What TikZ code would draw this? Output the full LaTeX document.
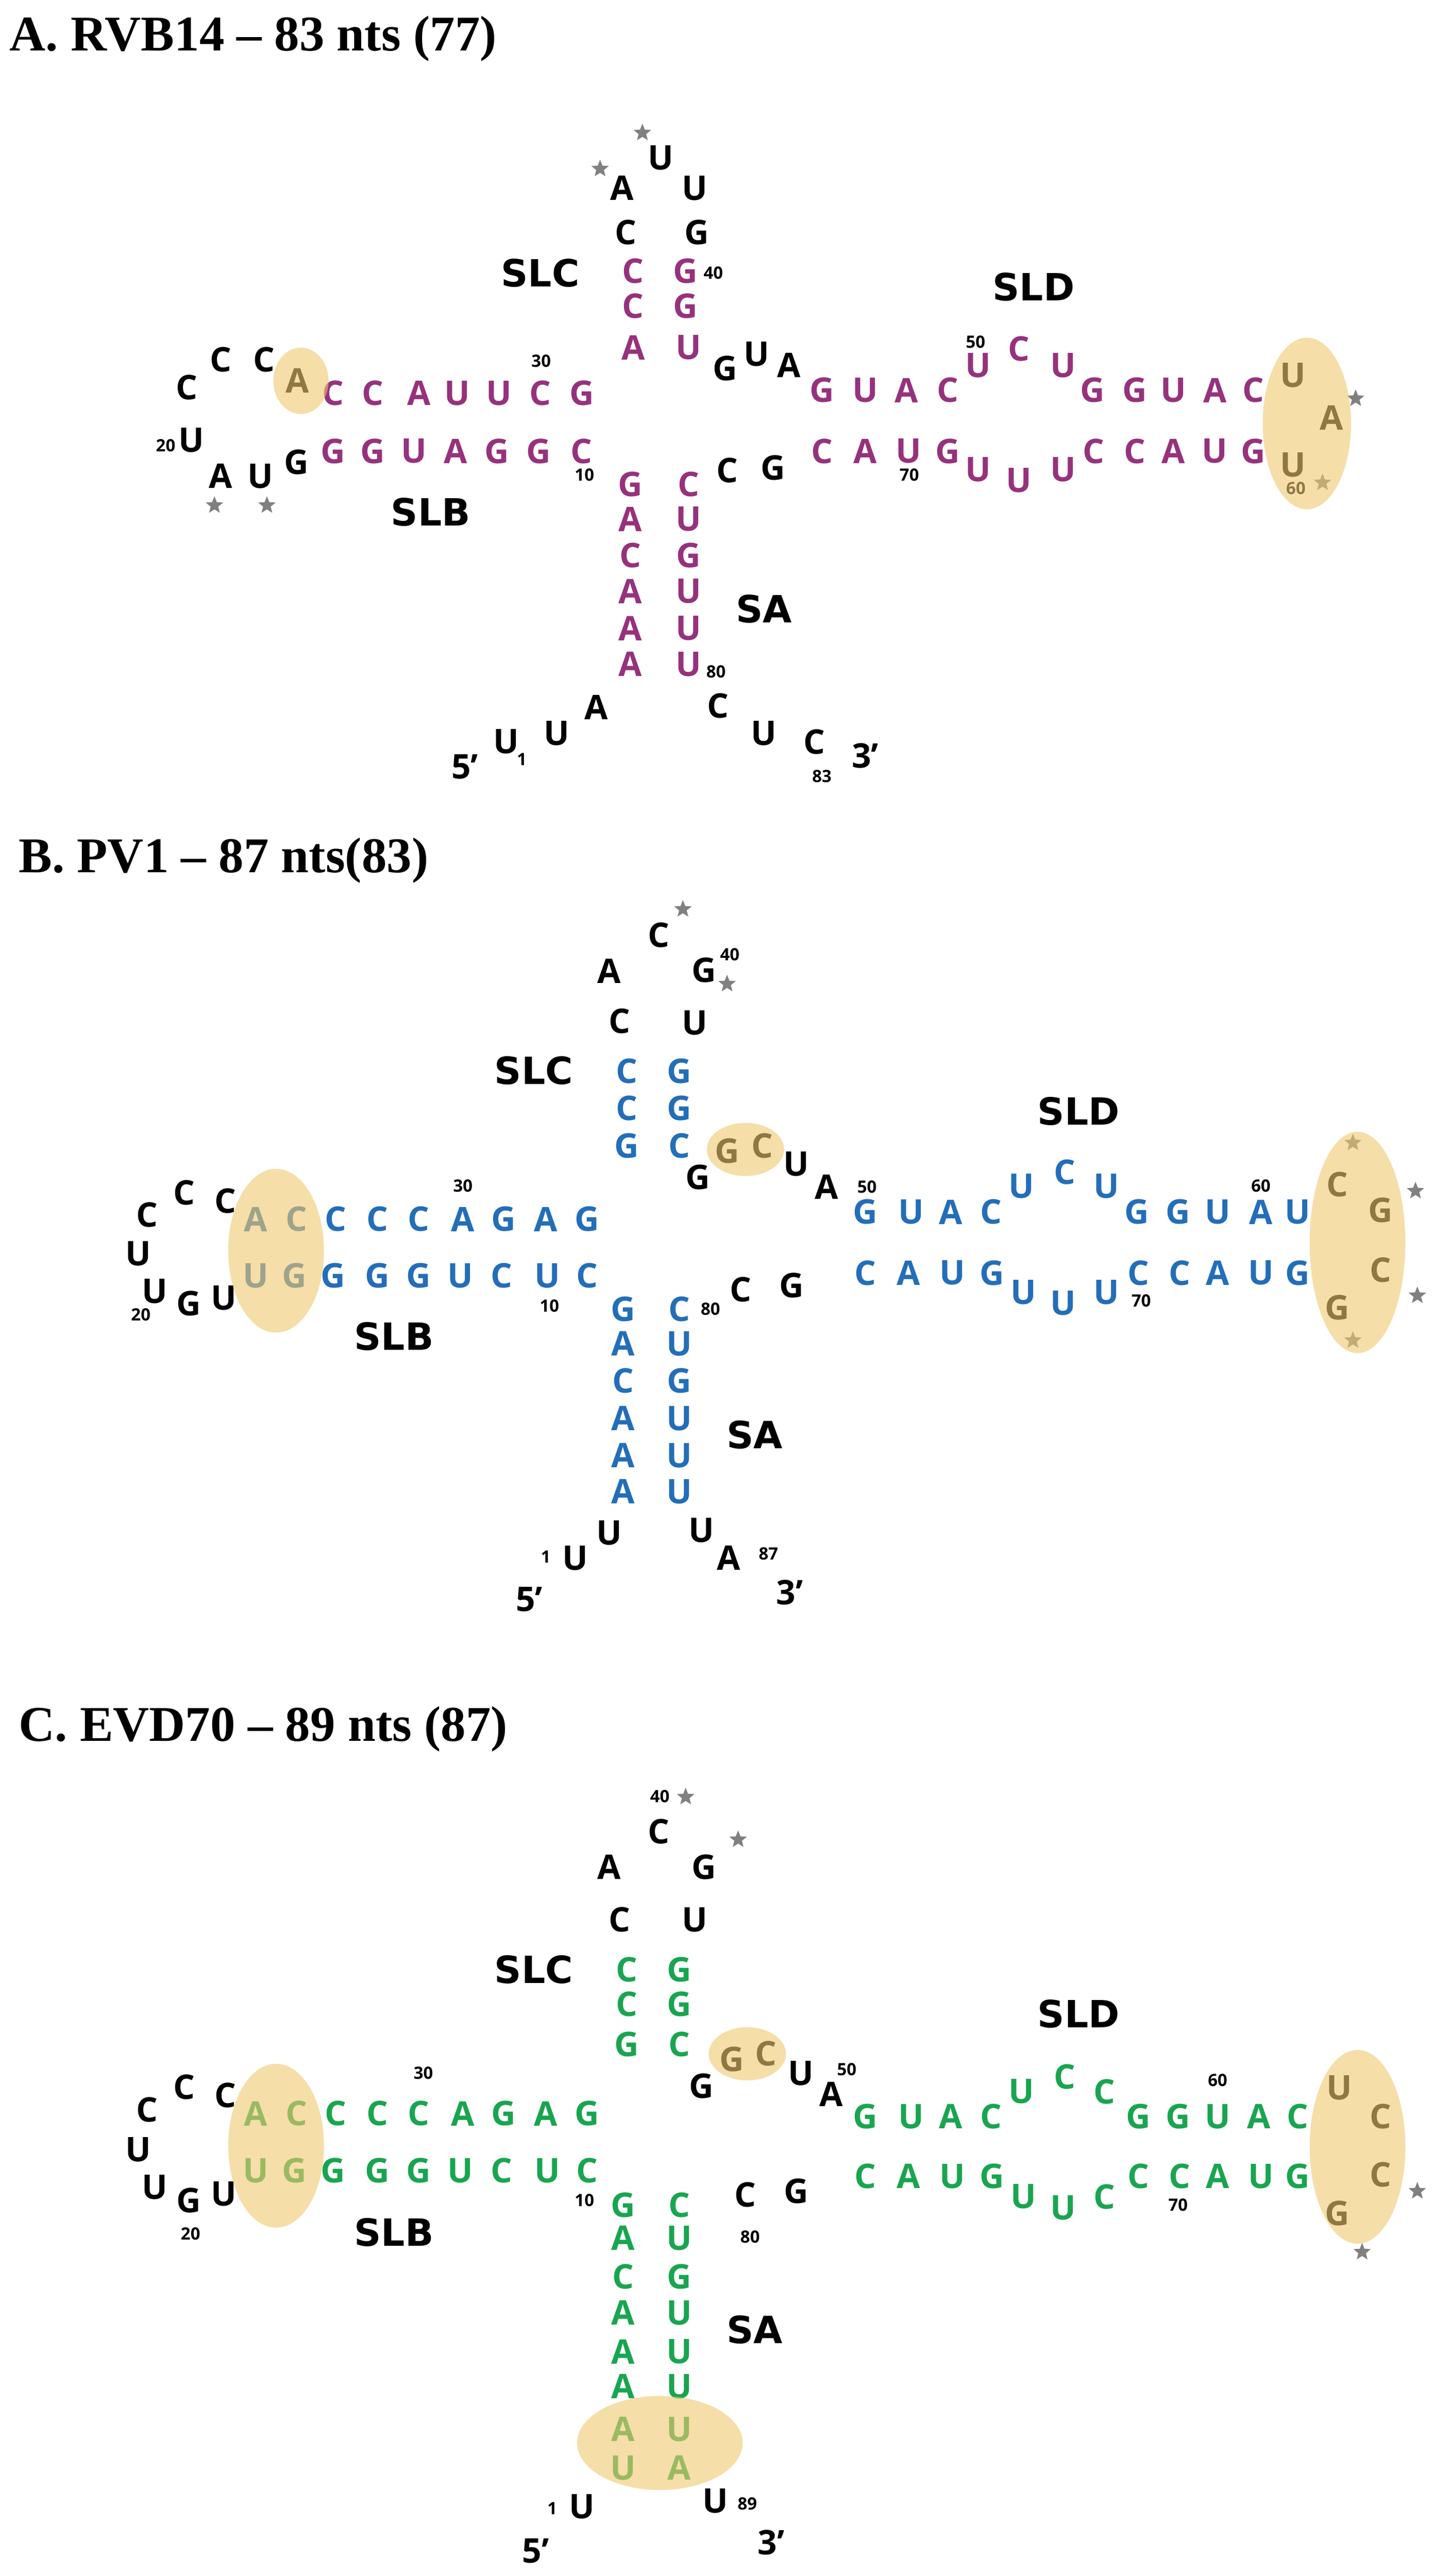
\documentclass[tikz,border=0pt]{standalone}
\usepackage{fontspec}
\setmainfont{Liberation Serif}
\setsansfont{Open Sans}
\newfontfamily\lblfont{DejaVu Sans}
\usetikzlibrary{shapes.geometric}
\definecolor{rvbpur}{RGB}{150,50,125}
\definecolor{pvblue}{RGB}{35,110,185}
\definecolor{evgreen}{RGB}{25,165,80}
\definecolor{hlfill}{RGB}{240,200,110}
\tikzset{
  nt/.style    = {inner sep=0pt, font=\fontsize{19}{19}\sffamily\bfseries},
  blk/.style   = {nt, text=black},
  pur/.style   = {nt, text=rvbpur},
  blu/.style   = {nt, text=pvblue},
  grn/.style   = {nt, text=evgreen},
  num/.style   = {inner sep=0pt, font=\fontsize{9.5}{10}\sffamily\bfseries},
  lbl/.style   = {inner sep=0pt, font=\fontsize{21}{21}\lblfont\bfseries},
  ttl/.style   = {inner sep=0pt, anchor=west, font=\fontsize{28}{28}\selectfont\bfseries},
  hl/.style    = {fill=hlfill, fill opacity=0.6},
  starmark/.style = {star, star points=5, star point ratio=2.3, fill=gray,
                  minimum size=0.36cm, inner sep=0pt}
}
\begin{document}
\begin{tikzpicture}
  \useasboundingbox (0,0) rectangle (28.26,-50.70);
  % panel A
  \begin{scope}[x=0.018115cm, y=-0.010897cm]
    \node[ttl] (tA) at (10,70) {A. RVB14 -- 83 nts (77)};
    \foreach \x/\y [count=\i] in {698/240,652/305,1473/720,1437/872,233/913,290/913}
      \node[starmark] (sA\i) at (\x,\y) {};
    \node[blk] (a36) at (676,340) {A}; \node[blk] (a37) at (718,285) {U};
    \node[blk] (a38) at (755,340) {U}; \node[blk] (a35) at (680,420) {C};
    \node[blk] (a39) at (757,420) {G};
    \node[pur] (a34) at (688,490) {C}; \node[pur] (a40) at (745,490) {G};
    \node[pur] (a33) at (688,553) {C}; \node[pur] (a41) at (745,553) {G};
    \node[pur] (a32) at (688,628) {A}; \node[pur] (a42) at (748,628) {U};
    \node[num] (nA40) at (775,493) {40};
    \node[lbl] (slcA) at (587,493) {SLC};
    \node[blk] (a43) at (788,665) {G}; \node[blk] (a44) at (822,640) {U};
    \node[blk] (a45) at (857,660) {A};
    \foreach \x/\l [count=\i] in {893/G,940/U,985/A,1030/C,1187/G,1233/G,1275/U,1320/A,1362/C}
      \node[pur] (aDt\i) at (\x,705) {\l};
    \node[pur] (a50) at (1063,660) {U}; \node[pur] (a51) at (1107,630) {C};
    \node[pur] (a52) at (1155,660) {U};
    \node[num] (nA50) at (1060,618) {50};
    \node[blk] (a58) at (1405,678) {U}; \node[blk] (a59) at (1447,755) {A};
    \node[blk] (a60) at (1405,840) {U}; \node[num] (nA60) at (1408,882) {60};
    \node[lbl] (sldA) at (1123,518) {SLD};
    \foreach \x/\l [count=\i] in {893/C,940/A,987/U,1030/G,1188/C,1233/C,1275/A,1320/U,1362/G}
      \node[pur] (aDb\i) at (\x,815) {\l};
    \node[pur] (a68) at (1063,848) {U}; \node[pur] (a67) at (1107,868) {U};
    \node[pur] (a66) at (1155,848) {U};
    \node[num] (nA70) at (988,858) {70};
    \node[blk] (a77) at (790,850) {C}; \node[blk] (a78) at (840,845) {G};
    \foreach \x/\l [count=\i] in {362/C,405/C,455/A,497/U,542/U,587/C,632/G}
      \node[pur] (aBt\i) at (\x,710) {\l};
    \node[num] (nA30) at (588,652) {30};
    \node[blk] (a24) at (323,688) {A};
    \node[blk] (a23) at (287,650) {C}; \node[blk] (a22) at (240,650) {C};
    \node[blk] (a21) at (203,700) {C}; \node[blk] (a20) at (208,795) {U};
    \node[num] (nA20) at (180,805) {20};
    \node[blk] (a19) at (240,860) {A}; \node[blk] (a18) at (283,860) {U};
    \node[blk] (a17) at (322,835) {G};
    \foreach \x/\l [count=\i] in {362/G,405/G,450/U,495/A,540/G,585/G,632/C}
      \node[pur] (aBb\i) at (\x,815) {\l};
    \node[num] (nA10) at (635,858) {10};
    \node[lbl] (slbA) at (468,925) {SLB};
    \foreach \y/\l/\r [count=\i] in {875/G/C,938/A/U,1003/C/G,1068/A/U,1135/A/U,1200/A/U} {
      \node[pur] (aSl\i) at (685,\y) {\l};
      \node[pur] (aSr\i) at (748,\y) {\r};
    }
    \node[num] (nA80) at (778,1213) {80};
    \node[lbl] (saA) at (830,1100) {SA};
    \node[blk] (a3) at (648,1278) {A}; \node[blk] (a2) at (605,1325) {U};
    \node[blk] (a1) at (550,1340) {U}; \node[num] (nA1) at (567,1372) {1};
    \node[blk] (p5A) at (505,1385) {5’};
    \node[blk] (a81) at (780,1275) {C}; \node[blk] (a82) at (830,1325) {U};
    \node[blk] (a83) at (885,1340) {C}; \node[num] (nA83) at (893,1402) {83};
    \node[blk] (p3A) at (940,1365) {3’};
    \fill[hl] (327,688) ellipse (30 and 60);
    \fill[hl] (1420,765) ellipse (48 and 155);
  \end{scope}
  % panel B
  \begin{scope}[shift={(0,-16.5)}, x=0.018115cm, y=-0.010897cm]
    \node[ttl] (tB) at (20,40) {B. PV1 -- 87 nts(83)};
    \foreach \x/\y [count=\i] in {742/128,790/263,1470/550,1538/637,1540/826,1470/907}
      \node[starmark] (sB\i) at (\x,\y) {};
    \node[blk] (b39) at (716,175) {C}; \node[num] (nB40) at (793,210) {40};
    \node[blk] (b38) at (662,240) {A}; \node[blk] (b40) at (765,238) {G};
    \node[blk] (b37) at (673,330) {C}; \node[blk] (b41) at (755,333) {U};
    \node[lbl] (slcB) at (580,420) {SLC};
    \node[blu] (b36) at (681,420) {C}; \node[blu] (b42) at (738,420) {G};
    \node[blu] (b35) at (681,487) {C}; \node[blu] (b43) at (738,487) {G};
    \node[blu] (b34) at (681,555) {G}; \node[blu] (b44) at (738,555) {C};
    \node[blk] (b45) at (790,565) {G}; \node[blk] (b46) at (828,555) {C};
    \node[blk] (b33) at (758,612) {G};
    \node[blk] (b47) at (865,588) {U}; \node[blk] (b48) at (898,630) {A};
    \node[num] (nB50) at (942,630) {50};
    \foreach \x/\l [count=\i] in {940/G,990/U,1033/A,1077/C,1235/G,1280/G,1323/U,1370/A,1410/U}
      \node[blu] (bDt\i) at (\x,675) {\l};
    \node[blu] (b53) at (1110,628) {U}; \node[blu] (b54) at (1157,603) {C};
    \node[blu] (b55) at (1202,628) {U};
    \node[num] (nB60) at (1370,628) {60};
    \node[blk] (b61) at (1453,625) {C}; \node[blk] (b62) at (1500,672) {G};
    \node[blk] (b63) at (1500,780) {C}; \node[blk] (b64) at (1453,848) {G};
    \node[lbl] (sldB) at (1172,493) {SLD};
    \foreach \x/\l [count=\i] in {940/C,987/A,1035/U,1078/G,1237/C,1282/C,1323/A,1370/U,1410/G}
      \node[blu] (bDb\i) at (\x,785) {\l};
    \node[blu] (b73) at (1112,820) {U}; \node[blu] (b72) at (1155,840) {U};
    \node[blu] (b71) at (1202,820) {U};
    \node[num] (nB70) at (1240,835) {70};
    \node[blk] (b81) at (805,815) {C}; \node[blk] (b82) at (860,808) {G};
    \node[num] (nB80) at (772,850) {80};
    \foreach \x/\l [count=\i] in {278/A,322/C,365/C,410/C,455/C,503/A,547/G,593/A,638/G}
      \node[blu] (bBt\i) at (\x,688) {\l};
    \node[num] (nB30) at (503,628) {30};
    \node[blk] (b23) at (245,655) {C}; \node[blk] (b22) at (200,640) {C};
    \node[blk] (b21) at (160,680) {C}; \node[blk] (b20) at (150,750) {U};
    \node[blk] (b19) at (168,818) {U}; \node[blk] (b18) at (205,840) {G};
    \node[blk] (b17) at (243,830) {U}; \node[num] (nB20) at (153,860) {20};
    \foreach \x/\l [count=\i] in {278/U,320/G,362/G,410/G,455/G,500/U,545/C,595/U,638/C}
      \node[blu] (bBb\i) at (\x,790) {\l};
    \node[num] (nB10) at (597,845) {10};
    \node[lbl] (slbB) at (428,900) {SLB};
    \foreach \y/\l/\r [count=\i] in {850/G/C,913/A/U,980/C/G,1048/A/U,1115/A/U,1180/A/U} {
      \node[blu] (bSl\i) at (677,\y) {\l};
      \node[blu] (bSr\i) at (738,\y) {\r};
    }
    \node[lbl] (saB) at (820,1078) {SA};
    \node[blk] (b2) at (662,1255) {U}; \node[blk] (b1) at (625,1300) {U};
    \node[num] (nB1) at (593,1298) {1}; \node[blk] (p5B) at (575,1375) {5’};
    \node[blk] (b86) at (762,1250) {U}; \node[blk] (b87) at (792,1300) {A};
    \node[num] (nB87) at (835,1292) {87}; \node[blk] (p3B) at (858,1362) {3’};
    \fill[hl] (300,745) ellipse (52 and 148);
    \fill[hl] (810,562) ellipse (42 and 48);
    \fill[hl] (1475,730) ellipse (52 and 200);
  \end{scope}
  % panel C
  \begin{scope}[shift={(0,-33.7)}, x=0.018115cm, y=-0.010897cm]
    \node[ttl] (tC) at (20,30) {C. EVD70 -- 89 nts (87)};
    \foreach \x/\y [count=\i] in {745/153,802/230,1540/865,1480/975}
      \node[starmark] (sC\i) at (\x,\y) {};
    \node[num] (nC40) at (717,152) {40};
    \node[blk] (c40) at (716,215) {C};
    \node[blk] (c39) at (662,280) {A}; \node[blk] (c41) at (765,280) {G};
    \node[blk] (c38) at (673,375) {C}; \node[blk] (c42) at (755,375) {U};
    \node[lbl] (slcC) at (580,465) {SLC};
    \node[grn] (c37) at (681,465) {C}; \node[grn] (c43) at (738,465) {G};
    \node[grn] (c36) at (681,527) {C}; \node[grn] (c44) at (738,527) {G};
    \node[grn] (c35) at (681,600) {G}; \node[grn] (c45) at (738,600) {C};
    \node[blk] (c46) at (795,627) {G}; \node[blk] (c47) at (832,617) {C};
    \node[blk] (c34) at (762,675) {G};
    \node[blk] (c48) at (870,652) {U}; \node[blk] (c49) at (903,690) {A};
    \node[num] (nC50) at (920,645) {50};
    \foreach \x/\l [count=\i] in {940/G,990/U,1033/A,1077/C,1237/G,1280/G,1323/U,1368/A,1410/C}
      \node[grn] (cDt\i) at (\x,730) {\l};
    \node[grn] (c54) at (1110,685) {U}; \node[grn] (c55) at (1157,658) {C};
    \node[grn] (c56) at (1200,685) {C};
    \node[num] (nC60) at (1323,665) {60};
    \node[blk] (c62) at (1455,678) {U}; \node[blk] (c63) at (1500,730) {C};
    \node[blk] (c64) at (1500,835) {C}; \node[blk] (c65) at (1453,905) {G};
    \node[lbl] (sldC) at (1172,545) {SLD};
    \foreach \x/\l [count=\i] in {940/C,987/A,1035/U,1078/G,1237/C,1282/C,1323/A,1370/U,1410/G}
      \node[grn] (cDb\i) at (\x,838) {\l};
    \node[grn] (c75) at (1112,875) {U}; \node[grn] (c74) at (1155,895) {U};
    \node[grn] (c73) at (1200,875) {C};
    \node[num] (nC70) at (1280,890) {70};
    \node[blk] (c83) at (810,872) {C}; \node[blk] (c84) at (865,865) {G};
    \node[num] (nC80) at (815,948) {80};
    \foreach \x/\l [count=\i] in {278/A,322/C,365/C,410/C,455/C,503/A,547/G,593/A,638/G}
      \node[grn] (cBt\i) at (\x,725) {\l};
    \node[num] (nC30) at (460,652) {30};
    \node[blk] (c24) at (245,692) {C}; \node[blk] (c23) at (200,677) {C};
    \node[blk] (c22) at (160,718) {C}; \node[blk] (c21) at (150,790) {U};
    \node[blk] (c20) at (168,858) {U}; \node[blk] (c19) at (205,882) {G};
    \node[blk] (c18) at (243,870) {U}; \node[num] (nC20) at (207,942) {20};
    \foreach \x/\l [count=\i] in {278/U,320/G,362/G,410/G,455/G,500/U,545/C,595/U,638/C}
      \node[grn] (cBb\i) at (\x,828) {\l};
    \node[num] (nC10) at (635,882) {10};
    \node[lbl] (slbC) at (428,940) {SLB};
    \foreach \y/\l/\r [count=\i] in {890/G/C,950/A/U,1020/C/G,1085/A/U,1155/A/U,1218/A/U,1295/A/U,1365/U/A} {
      \node[grn] (cSl\i) at (677,\y) {\l};
      \node[grn] (cSr\i) at (738,\y) {\r};
    }
    \node[lbl] (saC) at (820,1115) {SA};
    \node[blk] (c1) at (632,1435) {U}; \node[num] (nC1) at (600,1438) {1};
    \node[blk] (p5C) at (582,1515) {5’};
    \node[blk] (c89) at (777,1425) {U}; \node[num] (nC89) at (812,1430) {89};
    \node[blk] (p3C) at (838,1500) {3’};
    \fill[hl] (300,783) ellipse (52 and 148);
    \fill[hl] (812,617) ellipse (42 and 48);
    \fill[hl] (1475,785) ellipse (52 and 175);
    \fill[hl] (717,1320) ellipse (90 and 85);
  \end{scope}
\end{tikzpicture}
\end{document}
